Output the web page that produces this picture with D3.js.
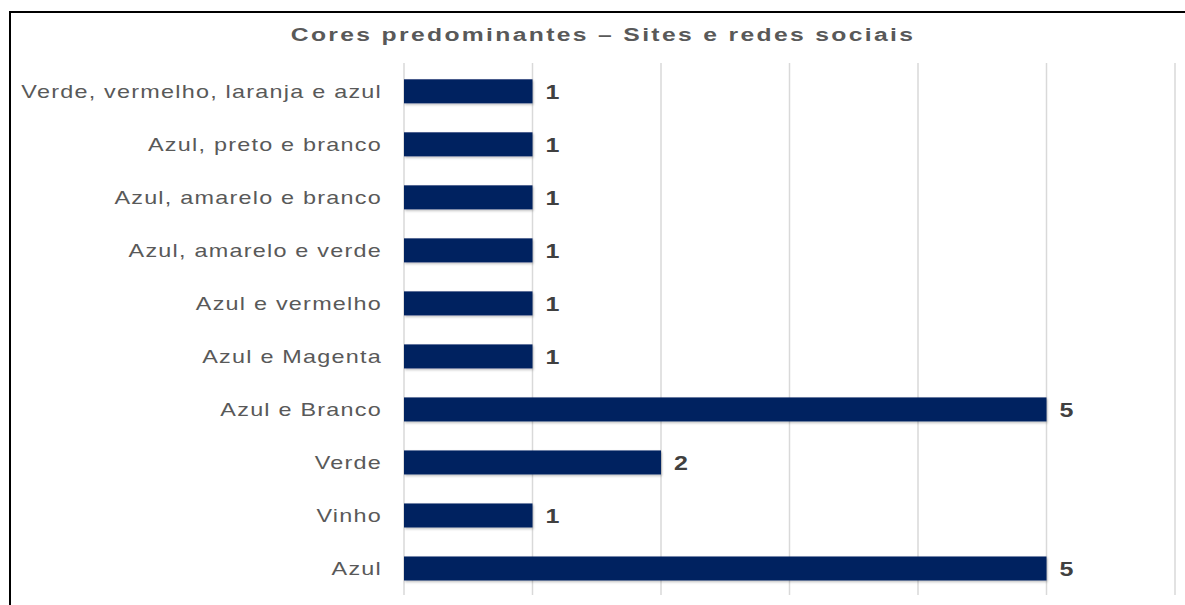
<!DOCTYPE html>
<html><head><meta charset="utf-8">
<script src="https://cdn.jsdelivr.net/npm/d3@7"></script>
<style>
html,body{margin:0;padding:0;background:#fff;}
svg{display:block;}
</style></head>
<body>
<svg id="chart" width="1185" height="605"></svg>
<script>
const title = "Cores predominantes \u2013 Sites e redes sociais";
const categories = ["Verde, vermelho, laranja e azul","Azul, preto e branco","Azul, amarelo e branco","Azul, amarelo e verde","Azul e vermelho","Azul e Magenta","Azul e Branco","Verde","Vinho","Azul"];
const values = [1,1,1,1,1,1,5,2,1,5];
const xTicks = [0,1,2,3,4,5,6];

const svg = d3.select("#chart");
const font = "'Liberation Sans', Arial, sans-serif";

const defs = svg.append("defs");
const f = defs.append("filter").attr("id","sh").attr("x","-5%").attr("y","-20%").attr("width","110%").attr("height","150%");
f.append("feDropShadow").attr("dx",1).attr("dy",1.5).attr("stdDeviation",1).attr("flood-color","#000").attr("flood-opacity",0.25);

// border (cropped frame)
svg.append("path").attr("d","M10,605 L10,12 L1185,12").attr("fill","none").attr("stroke","#000").attr("stroke-width",2);

const x = d3.scaleLinear().domain([0,6]).range([404,1175]);
const y = d3.scaleBand().domain(categories).range([64.8,595]).paddingInner(0.547).paddingOuter(0.2735);

svg.append("g").selectAll("line").data(xTicks).join("line")
  .attr("x1",d=>x(d)).attr("x2",d=>x(d)).attr("y1",63).attr("y2",595)
  .attr("stroke","#d9d9d9").attr("stroke-width",1.5);

svg.append("text").attr("transform","translate(603,41) scale(1.3,1)").attr("text-anchor","middle")
  .attr("font-family",font).attr("font-weight","bold").attr("font-size",19).attr("letter-spacing",1.8)
  .attr("fill","#595959").text(title);

svg.append("g").selectAll("text").data(categories).join("text")
  .attr("transform",d=>`translate(382,${y(d)+y.bandwidth()/2}) scale(1.3,1)`).attr("dy","0.35em").attr("text-anchor","end")
  .attr("font-family",font).attr("font-size",18).attr("letter-spacing",0.95).attr("fill","#595959").text(d=>d);

svg.append("g").selectAll("rect").data(categories).join("rect")
  .attr("x",x(0)).attr("y",d=>y(d)).attr("width",(d,i)=>x(values[i])-x(0)).attr("height",y.bandwidth())
  .attr("fill","#002060").attr("filter","url(#sh)");

svg.append("g").selectAll("text").data(categories).join("text")
  .attr("transform",(d,i)=>`translate(${x(values[i])+13},${y(d)+y.bandwidth()/2}) scale(1.25,1)`).attr("dy","0.36em")
  .attr("font-family",font).attr("font-weight","bold").attr("font-size",20).attr("fill","#404040").text((d,i)=>values[i]);
</script>
</body></html>
